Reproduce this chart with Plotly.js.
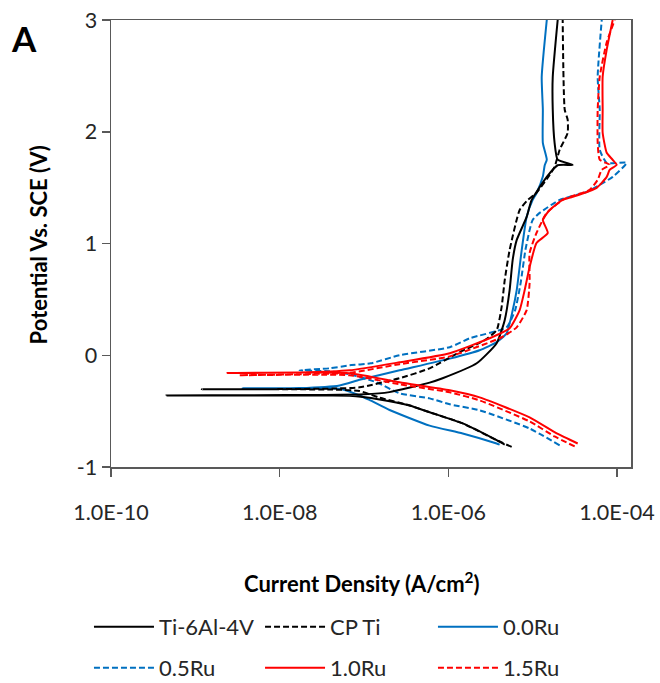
<!DOCTYPE html>
<html><head><meta charset="utf-8">
<script src="https://cdn.plot.ly/plotly-3.0.1.min.js"></script>
<style>body{margin:0;background:#fff}#chart{width:660px;height:683px}</style>
</head><body><div id="chart"></div>
<script>
// Current density (A/cm2) and potential (V vs SCE), scan from cathodic to anodic
const ti64_i = [4.66e-6, 3.74e-6, 1.48e-6, 6.0e-7, 3.47e-7, 1.53e-7, 6.75e-8, 2.0e-8, 4.55e-10, 5.0e-9, 3.0e-8, 1.0e-7, 2.0e-7, 6.0e-7, 8.55e-7, 2.17e-6, 3.74e-6, 4.66e-6, 5.33e-6, 5.79e-6, 6.46e-6, 8.49e-6, 9.73e-6, 1.47e-5, 1.98e-5, 2.98e-5, 1.98e-5, 1.82e-5, 1.73e-5, 1.73e-5, 1.98e-5];
const ti64_E = [-0.80, -0.76, -0.61, -0.51, -0.45, -0.395, -0.362, -0.361, -0.36, -0.358, -0.355, -0.35, -0.33, -0.245, -0.206, -0.072, 0.108, 0.314, 0.583, 0.852, 1.03, 1.238, 1.39, 1.596, 1.70, 1.704, 1.75, 1.90, 2.20, 2.49, 3.0];

const cpti_i = [5.64e-6, 3.74e-6, 1.48e-6, 6.0e-7, 3.5e-7, 1.53e-7, 8.87e-8, 4.25e-8, 1.19e-9, 1.0e-8, 4.25e-8, 8.87e-8, 2.64e-7, 6.0e-7, 1.36e-6, 2.7e-6, 3.74e-6, 4.28e-6, 4.66e-6, 5.33e-6, 7.01e-6, 8.73e-6, 1.11e-5, 1.59e-5, 1.82e-5, 2.09e-5, 2.6e-5, 2.6e-5, 2.4e-5, 2.27e-5];
const cpti_E = [-0.82, -0.76, -0.61, -0.51, -0.45, -0.38, -0.32, -0.307, -0.305, -0.303, -0.298, -0.287, -0.206, -0.117, 0.027, 0.135, 0.224, 0.43, 0.67, 0.942, 1.30, 1.39, 1.453, 1.614, 1.686, 1.839, 1.99, 2.108, 2.197, 3.0];

const ru00_i = [4.06e-6, 3.74e-6, 1.48e-6, 6.0e-7, 2.01e-7, 1.16e-7, 8.87e-8, 5.14e-8, 3.63e-9, 1.72e-8, 5.14e-8, 8.87e-8, 2.64e-7, 1.04e-6, 2.35e-6, 3.74e-6, 4.91e-6, 5.79e-6, 6.46e-6, 7.41e-6, 8.49e-6, 1.0e-5, 1.11e-5, 1.32e-5, 1.39e-5, 1.47e-5, 1.32e-5, 1.32e-5, 1.28e-5, 1.47e-5];
const ru00_E = [-0.80, -0.79, -0.70, -0.63, -0.49, -0.40, -0.36, -0.30, -0.296, -0.294, -0.27, -0.22, -0.135, -0.03, 0.045, 0.117, 0.197, 0.40, 0.58, 0.94, 1.24, 1.39, 1.45, 1.60, 1.70, 1.75, 1.90, 2.20, 2.49, 3.0];

const ru05_i = [2.09e-5, 9.2e-6, 2.35e-6, 1.04e-6, 6.0e-7, 2.64e-7, 1.41e-7, 6.75e-8, 3.9e-8, 1.72e-8, 3.9e-8, 6.75e-8, 1.2e-7, 2.64e-7, 1.04e-6, 1.79e-6, 4.91e-6, 6.2e-6, 7.2e-6, 8.2e-6, 9.2e-6, 1.0e-5, 1.21e-5, 2.09e-5, 4.38e-5, 6.24e-5, 8.9e-5, 1.3e-4, 7.55e-5, 6.24e-5, 6.24e-5, 5.9e-5, 6.59e-5];
const ru05_E = [-0.807, -0.655, -0.493, -0.439, -0.386, -0.341, -0.242, -0.17, -0.143, -0.135, -0.117, -0.09, -0.072, 0.0, 0.072, 0.152, 0.251, 0.404, 0.646, 0.942, 1.12, 1.211, 1.274, 1.39, 1.462, 1.525, 1.596, 1.722, 1.722, 1.839, 2.197, 2.49, 3.0];

const ru10_i = [3.42e-5, 1.93e-5, 9.2e-6, 2.35e-6, 1.04e-6, 2.64e-7, 6.75e-8, 2.41e-9, 1.72e-8, 6.75e-8, 2.64e-7, 1.04e-6, 3.09e-6, 5.33e-6, 7.01e-6, 8.04e-6, 9.2e-6, 1.11e-5, 1.51e-5, 1.32e-5, 1.59e-5, 2.27e-5, 2.98e-5, 5.74e-5, 7.55e-5, 8.18e-5, 9.91e-5, 8.89e-5, 7.55e-5, 6.76e-5, 6.76e-5, 6.76e-5, 7.55e-5, 8.89e-5];
const ru10_E = [-0.79, -0.70, -0.556, -0.377, -0.314, -0.242, -0.161, -0.159, -0.155, -0.135, -0.063, 0.018, 0.152, 0.242, 0.404, 0.583, 0.789, 1.004, 1.094, 1.211, 1.30, 1.39, 1.417, 1.498, 1.596, 1.659, 1.704, 1.749, 1.812, 1.991, 2.197, 2.493, 2.735, 3.0];

const ru15_i = [3.15e-5, 1.82e-5, 9.2e-6, 2.35e-6, 1.04e-6, 2.64e-7, 6.75e-8, 3.34e-9, 1.72e-8, 6.75e-8, 2.64e-7, 1.04e-6, 4.3e-6, 6.46e-6, 8.49e-6, 9.2e-6, 9.2e-6, 1.11e-5, 1.47e-5, 2.27e-5, 2.53e-5, 4.74e-5, 5.9e-5, 6.59e-5, 8.18e-5, 6.24e-5, 5.9e-5, 5.9e-5, 6.24e-5, 7.55e-5, 9.4e-5];
const ru15_E = [-0.816, -0.727, -0.592, -0.404, -0.332, -0.26, -0.179, -0.179, -0.17, -0.157, -0.08, -0.01, 0.161, 0.25, 0.404, 0.646, 0.915, 1.094, 1.274, 1.39, 1.408, 1.48, 1.57, 1.659, 1.704, 1.749, 1.90, 2.197, 2.493, 2.80, 3.0];

const seriesNames = ["Ti-6Al-4V", "CP Ti", "0.0Ru", "0.5Ru", "1.0Ru", "1.5Ru"];
const xTickVals = [1e-10, 1e-8, 1e-6, 1e-4];
const xTickText = ["1.0E-10", "1.0E-08", "1.0E-06", "1.0E-04"];
const yTickVals = [-1, 0, 1, 2, 3];
const yTickText = ["-1", "0", "1", "2", "3"];
const xTitle = "<b>Current Density (A/cm<sup>2</sup>)</b>";
const yTitle = "<b>Potential Vs. SCE (V)</b>";
const panelLabel = "<b>A</b>";

const FONT = "Lato, 'Open Sans', sans-serif";
const BLACK = "#000000", BLUE = "#0070C0", RED = "#FF0000";
const DASH = "6px,3px";

function tr(x, y, name, color, dash, legend) {
  return {x: x, y: y, name: name, type: "scatter", mode: "lines",
    line: {color: color, width: 2, dash: dash, shape: "spline", smoothing: 0.5},
    legend: legend, hoverinfo: "skip"};
}
const data = [
  tr(ru00_i, ru00_E, seriesNames[2], BLUE, "solid", "legend3"),
  tr(ru05_i, ru05_E, seriesNames[3], BLUE, DASH, "legend4"),
  tr(ti64_i, ti64_E, seriesNames[0], BLACK, "solid", "legend"),
  tr(cpti_i, cpti_E, seriesNames[1], BLACK, DASH, "legend2"),
  tr(ru10_i, ru10_E, seriesNames[4], RED, "solid", "legend5"),
  tr(ru15_i, ru15_E, seriesNames[5], RED, DASH, "legend6")
];

const AX = "#595959";
function leg(x, y) {
  return {x: x, y: y, xref: "container", yref: "container", xanchor: "left", yanchor: "middle",
    orientation: "v", itemwidth: 60, font: {family: FONT, size: 22, color: "#262626"},
    bgcolor: "rgba(0,0,0,0)", borderwidth: 0};
}
const col = [0.1348, 0.394, 0.656];
const row = [0.082, 0.022];

const layout = {
  width: 660, height: 683,
  margin: {l: 111, r: 29, t: 20, b: 216, autoexpand: false},
  paper_bgcolor: "#fff", plot_bgcolor: "#fff",
  font: {family: FONT, size: 22, color: "#262626"},
  showlegend: true,
  xaxis: {type: "log", range: [-10, -3.834], tickvals: xTickVals, ticktext: xTickText,
    ticks: "outside", ticklen: 8, tickwidth: 1.5, tickcolor: AX, automargin: false,
    showline: true, linecolor: AX, linewidth: 1.5, mirror: true,
    showgrid: false, zeroline: false, ticklabelstandoff: 18,
    tickfont: {family: FONT, size: 21.5, color: "#262626"}},
  yaxis: {range: [-1, 3], tickvals: yTickVals, ticktext: yTickText, automargin: false,
    ticks: "outside", ticklen: 8, tickwidth: 1.5, tickcolor: AX,
    showline: true, linecolor: AX, linewidth: 1.5, mirror: true,
    showgrid: false, zeroline: false,
    tickfont: {family: FONT, size: 21.5, color: "#262626"}},
  legend: leg(col[0], row[0]),
  legend2: leg(col[1], row[0]),
  legend3: leg(col[2], row[0]),
  legend4: leg(col[0], row[1]),
  legend5: leg(col[1], row[1]),
  legend6: leg(col[2], row[1]),
  annotations: [
    {text: panelLabel, xref: "paper", yref: "paper", x: -0.168, y: 0.96,
      xanchor: "center", yanchor: "middle", showarrow: false,
      font: {family: FONT, size: 35, color: "#000"}},
    {text: xTitle, xref: "paper", yref: "paper", x: 0.483, y: -0.258,
      xanchor: "center", yanchor: "middle", showarrow: false,
      font: {family: FONT, size: 22, color: "#000"}},
    {text: yTitle, xref: "paper", yref: "paper", x: -0.1404, y: 0.498, textangle: -90,
      xanchor: "center", yanchor: "middle", showarrow: false,
      font: {family: FONT, size: 22, color: "#000"}}
  ]
};
Plotly.newPlot("chart", data, layout, {displayModeBar: false, staticPlot: true});
</script>
</body></html>
